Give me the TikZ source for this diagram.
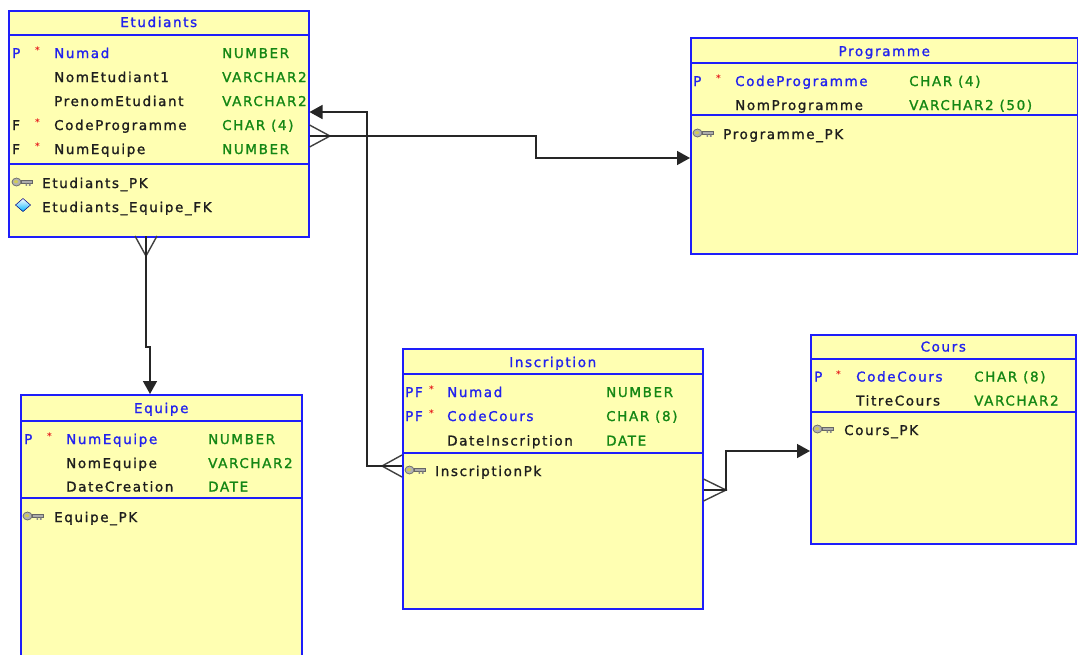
\documentclass[tikz,border=0pt]{standalone}
\usepackage{fontspec}
\usetikzlibrary{arrows.meta}
\newfontfamily\erfont[LetterSpace=12,FakeBold=1.3]{DejaVu Sans}
\newfontfamily\erstarfont{DejaVu Sans Bold}
\definecolor{erblue}{RGB}{34,34,238}
\definecolor{erborder}{RGB}{30,30,250}
\definecolor{ergreen}{RGB}{20,135,20}
\definecolor{eryellow}{RGB}{255,255,178}
\definecolor{erred}{RGB}{230,30,30}
\definecolor{ertext}{RGB}{30,30,30}
\tikzset{
  tbl/.style={draw=erborder, fill=eryellow, line width=1.5pt, anchor=north west, inner sep=0pt},
  sepline/.style={draw=erborder, line width=1.5pt},
  txt/.style={anchor=base west, inner sep=0pt, font=\erfont\fontsize{13.5}{15}\selectfont},
  nm/.style={txt, text=ertext},
  pkn/.style={txt, text=erblue},
  ty/.style={txt, text=ergreen},
  flag/.style={txt, text=ertext},
  pflag/.style={txt, text=erblue},
  ttl/.style={anchor=base, inner sep=0pt, text=erblue, font=\erfont\fontsize{13.5}{15}\selectfont},
  star/.style={anchor=base west, inner sep=0pt, text=erred, font=\erstarfont\fontsize{9}{10}\selectfont, yshift=4.5pt},
  conn/.style={draw=black!85, line width=1.5pt},
  crow/.style={draw=black!75, line width=1.4pt},
  arr/.style={conn, -{Triangle[length=13pt,width=14pt]}},
  keyic/.pic={
    \draw[fill=gray!60, draw=black!60, line width=0.7pt] (4.5,0) ellipse (4.5 and 4);
    \fill[yellow!60!gray] (4,-0.3) ellipse (2 and 1.6);
    \draw[fill=gray!65, draw=black!60, line width=0.7pt] (9,-1.7) rectangle (20,1.7);
    \fill[black!45] (13.5,1.7) rectangle (15.2,3.8) (16.8,1.7) rectangle (18.5,3.8);
  },
  diamic/.pic={
    \shade[top color=white, bottom color=cyan!70!blue, draw=blue!50!black, line width=0.5pt]
      (0,-6.5) -- (7.5,0) -- (0,6.5) -- (-7.5,0) -- cycle;
  }
}
\begin{document}
\begin{tikzpicture}[x=1pt,y=-1pt]
\useasboundingbox (0,0) rectangle (1078,654);
\fill[white] (0,0) rectangle (1078,654);

% ---------------- Etudiants
\node[tbl, minimum width=300pt, minimum height=226pt] (etu) at (8,10) {};
\draw[sepline] (etu.west |- 0,35) -- (etu.east |- 0,35);
\draw[sepline] (etu.west |- 0,164) -- (etu.east |- 0,164);
\begin{scope}
\clip (etu.south west) rectangle (etu.north east);
\node[ttl] (etut) at (etu.north |- 0,27) {Etudiants};
\node[pflag] (etuf1) at (12,58) {P};
\node[star] (etus1) at (35,58) {*};
\node[pkn] (etun1) at (54,58) {Numad};
\node[ty] (etuy1) at (222,58) {NUMBER};
\node[nm] (etun2) at (54,82) {NomEtudiant1};
\node[ty] (etuy2) at (222,82) {VARCHAR2};
\node[nm] (etun3) at (54,106) {PrenomEtudiant};
\node[ty] (etuy3) at (222,106) {VARCHAR2};
\node[flag] (etuf4) at (12,130) {F};
\node[star] (etus4) at (35,130) {*};
\node[nm] (etun4) at (54,130) {CodeProgramme};
\node[ty] (etuy4) at (222,130) {CHAR (4)};
\node[flag] (etuf5) at (12,154) {F};
\node[star] (etus5) at (35,154) {*};
\node[nm] (etun5) at (54,154) {NumEquipe};
\node[ty] (etuy5) at (222,154) {NUMBER};
\pic at (12,182) {keyic};
\node[nm] (etuk1) at (42,188) {Etudiants\_PK};
\pic at (23,205) {diamic};
\node[nm] (etuk2) at (42,212) {Etudiants\_Equipe\_FK};
\end{scope}

% ---------------- Programme
\node[tbl, minimum width=387pt, minimum height=216pt] (prog) at (690,37) {};
\draw[sepline] (prog.west |- 0,63) -- (prog.east |- 0,63);
\draw[sepline] (prog.west |- 0,115) -- (prog.east |- 0,115);
\begin{scope}
\clip (prog.south west) rectangle (prog.north east);
\node[ttl] (progt) at (prog.north |- 0,56) {Programme};
\node[pflag] (progf1) at (693,86) {P};
\node[star] (progs1) at (716,86) {*};
\node[pkn] (progn1) at (735,86) {CodeProgramme};
\node[ty] (progy1) at (909,86) {CHAR (4)};
\node[nm] (progn2) at (735,110) {NomProgramme};
\node[ty] (progy2) at (909,110) {VARCHAR2 (50)};
\pic at (693,133) {keyic};
\node[nm] (progk1) at (723,139) {Programme\_PK};
\end{scope}

% ---------------- Equipe
\node[tbl, minimum width=281pt, minimum height=300pt] (equ) at (20,394) {};
\draw[sepline] (equ.west |- 0,421) -- (equ.east |- 0,421);
\draw[sepline] (equ.west |- 0,498) -- (equ.east |- 0,498);
\begin{scope}
\clip (equ.south west) rectangle (equ.north east);
\node[ttl] (equt) at (equ.north |- 0,413) {Equipe};
\node[pflag] (equf1) at (24,444) {P};
\node[star] (equs1) at (47,444) {*};
\node[pkn] (equn1) at (66,444) {NumEquipe};
\node[ty] (equy1) at (208,444) {NUMBER};
\node[nm] (equn2) at (66,468) {NomEquipe};
\node[ty] (equy2) at (208,468) {VARCHAR2};
\node[nm] (equn3) at (66,491.5) {DateCreation};
\node[ty] (equy3) at (208,491.5) {DATE};
\pic at (23,516) {keyic};
\node[nm] (equk1) at (54,522) {Equipe\_PK};
\end{scope}

% ---------------- Inscription
\node[tbl, minimum width=300pt, minimum height=260pt] (ins) at (402,348) {};
\draw[sepline] (ins.west |- 0,374) -- (ins.east |- 0,374);
\draw[sepline] (ins.west |- 0,453) -- (ins.east |- 0,453);
\begin{scope}
\clip (ins.south west) rectangle (ins.north east);
\node[ttl] (inst) at (ins.north |- 0,367) {Inscription};
\node[pflag] (insf1) at (405,397) {PF};
\node[star] (inss1) at (429,397) {*};
\node[pkn] (insn1) at (447,397) {Numad};
\node[ty] (insy1) at (606,397) {NUMBER};
\node[pflag] (insf2) at (405,421) {PF};
\node[star] (inss2) at (429,421) {*};
\node[pkn] (insn2) at (447,421) {CodeCours};
\node[ty] (insy2) at (606,421) {CHAR (8)};
\node[nm] (insn3) at (447,445.5) {DateInscription};
\node[ty] (insy3) at (606,445.5) {DATE};
\pic at (405,470) {keyic};
\node[nm] (insk1) at (435,476) {InscriptionPk};
\end{scope}

% ---------------- Cours
\node[tbl, minimum width=265pt, minimum height=209pt] (cou) at (810,334) {};
\draw[sepline] (cou.west |- 0,359) -- (cou.east |- 0,359);
\draw[sepline] (cou.west |- 0,412) -- (cou.east |- 0,412);
\begin{scope}
\clip (cou.south west) rectangle (cou.north east);
\node[ttl] (cout) at (cou.north |- 0,351.5) {Cours};
\node[pflag] (couf1) at (814,381.5) {P};
\node[star] (cous1) at (836,381.5) {*};
\node[pkn] (coun1) at (856,381.5) {CodeCours};
\node[ty] (couy1) at (974,381.5) {CHAR (8)};
\node[nm] (coun2) at (856,405.5) {TitreCours};
\node[ty] (couy2) at (974,405.5) {VARCHAR2};
\pic at (813,429) {keyic};
\node[nm] (couk1) at (844,435) {Cours\_PK};
\end{scope}

% ---------------- connectors
% Etudiants -> Programme
\coordinate (a1) at (etu.east |- 0,136);
\coordinate (a1j) at (536,147);
\coordinate (a1e) at (prog.west |- 0,158);
\draw[crow] (etu.east |- 0,125) -- (330,136) -- (etu.east |- 0,147);
\draw[arr] (a1) -| (a1j) |- (a1e);

% Inscription -> Etudiants
\coordinate (a2) at (ins.west |- 0,466);
\coordinate (a2j) at (367,300);
\coordinate (a2e) at (etu.east |- 0,112);
\draw[crow] (ins.west |- 0,455) -- (382,466) -- (ins.west |- 0,477);
\draw[arr] (a2) -| (a2j) |- (a2e);

% Etudiants -> Equipe
\coordinate (a3) at (146,236);
\coordinate (a3j) at (148,347);
\coordinate (a3e) at (150,394);
\draw[crow] (135,236) -- (146,256) -- (157,236);
\draw[arr] (a3) |- (a3j) -| (a3e);

% Inscription -> Cours
\coordinate (a4) at (ins.east |- 0,490);
\coordinate (a4j) at (726,470);
\coordinate (a4e) at (cou.west |- 0,451);
\draw[crow] (ins.east |- 0,479) -- (726,490) -- (ins.east |- 0,501);
\draw[arr] (a4) -| (a4j) |- (a4e);
\end{tikzpicture}
\end{document}
